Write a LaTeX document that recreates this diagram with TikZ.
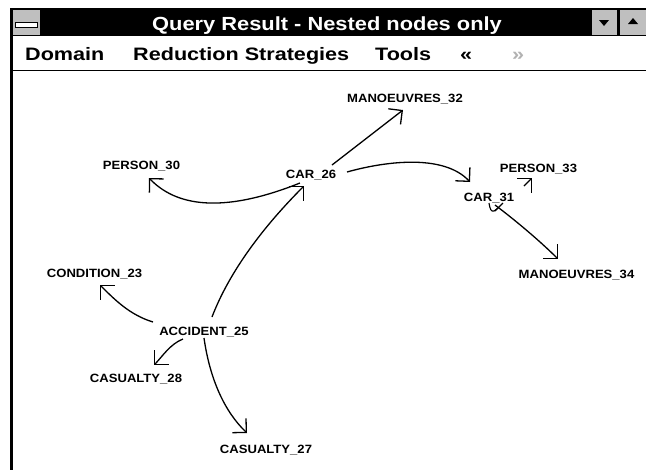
\documentclass[tikz,border=0pt]{standalone}
\usepackage{fontspec}
\setmainfont{Liberation Sans}
\usepackage{graphicx}
\usetikzlibrary{arrows.meta,calc}
\newcommand{\lbl}[1]{\scalebox{1.09}[1]{#1}}
\newcommand{\mnu}[1]{\scalebox{1.2}[1]{#1}}
\begin{document}
\begin{tikzpicture}[x=1pt,y=-1pt,
  ent/.style={anchor=base,inner sep=0pt,font=\bfseries\fontsize{12}{12}\selectfont},
  rel/.style={line width=1.3pt,-{Straight Barb[angle=90:14pt]}},
  menuitem/.style={anchor=base west,inner sep=0pt,font=\bfseries\fontsize{18}{18}\selectfont},
  chromebox/.style={draw=black,line width=0.8pt,fill=gray!50}]
\useasboundingbox (0,0) rectangle (646,475);
\fill[white] (0,0) rectangle (646,475);
% title bar
\fill[black] (10,8) rectangle (646,36);
\node[anchor=base,inner sep=0pt,text=white,font=\bfseries\fontsize{19}{19}\selectfont] (title) at (327,30) {\scalebox{1.15}[1]{Query Result - Nested nodes only}};
% system menu box
\draw[chromebox] (11,9) rectangle (40,35);
\draw[fill=white,line width=0.8pt] (15,22) rectangle (37,27);
% min / max boxes
\draw[chromebox] (591,9) rectangle (617,35);
\draw[chromebox] (619,9) rectangle (646,35);
\fill[black] (599,20) -- (609,20) -- (604,26) -- cycle;
\fill[black] (628,24) -- (638,24) -- (633,18) -- cycle;
% menu bar
\draw[line width=1.5pt] (10,70.5) -- (646,70.5);
\draw[line width=3pt] (11.5,8) -- (11.5,470);
\node[menuitem] (mdomain) at (25,60) {\mnu{Domain}};
\node[menuitem] (mred) at (133,60) {\mnu{Reduction Strategies}};
\node[menuitem] (mtools) at (375,60) {\mnu{Tools}};
\node[menuitem] (mprev) at (460,60) {\mnu{«}};
\node[menuitem,text=gray!60] (mnext) at (512,60) {\mnu{»}};
% entity nodes
\node[ent] (man32) at (405,102) {\lbl{MANOEUVRES\_32}};
\node[ent] (per30) at (141.5,169) {\lbl{PERSON\_30}};
\node[ent] (car26) at (311,178) {\lbl{CAR\_26}};
\node[ent] (per33) at (538.5,172) {\lbl{PERSON\_33}};
\node[ent] (car31) at (489,201) {\lbl{CAR\_31}};
\node[ent] (man34) at (576.5,278) {\lbl{MANOEUVRES\_34}};
\node[ent] (con23) at (94.5,277) {\lbl{CONDITION\_23}};
\node[ent] (acc25) at (204,335) {\lbl{ACCIDENT\_25}};
\node[ent] (cas28) at (136,382) {\lbl{CASUALTY\_28}};
\node[ent] (cas27) at (266,453) {\lbl{CASUALTY\_27}};
% connectors
\draw[rel] ($(car26.base)+(21,-13)$) -- ($(man32.base)+(-2,8)$);
\draw[rel] ($(car26.base)+(-11,5)$) .. controls +(-80,32) and +(26,27) .. ($(per30.base)+(7.5,9)$);
\draw[rel] ($(acc25.base)+(8,-18)$) .. controls +(18,-47) and +(-39,39) .. ($(car26.base)+(-7,8)$);
\draw[rel] ($(car26.base)+(36,-6)$) .. controls +(43,-12) and +(-25,-27) .. ($(car31.base)+(-19,-19)$);
\draw[rel] ($(car31.base)+(35,-15)$) -- ($(per33.base)+(-6.5,6)$);
\draw[rel] ($(car31.base)+(6,4)$) .. controls +(20,15) and +(-18,-18) .. ($(man34.base)+(-18.5,-19)$);
\draw[rel] ($(acc25.base)+(-51,-13)$) .. controls +(-23,-7) and +(15,15) .. ($(con23.base)+(5.5,8)$);
\draw[rel] ($(acc25.base)+(-21,4)$) .. controls +(-13,5) and +(8,-8) .. ($(cas28.base)+(18,-17)$);
\draw[rel] ($(acc25.base)+(0,3)$) .. controls +(6,42) and +(-22,-21) .. ($(cas27.base)+(-19,-20)$);
% small mark under CAR_31
\coordinate (mk) at ($(car31.base)+(0,2)$);
\draw[line width=1.1pt] (mk) .. controls +(1,6) and +(-3,1) .. ++(5,8) -- ++(4,-3);
\draw[line width=1.1pt] ($(mk)+(6,8)$) -- ++(8,-8);
\end{tikzpicture}
\end{document}
